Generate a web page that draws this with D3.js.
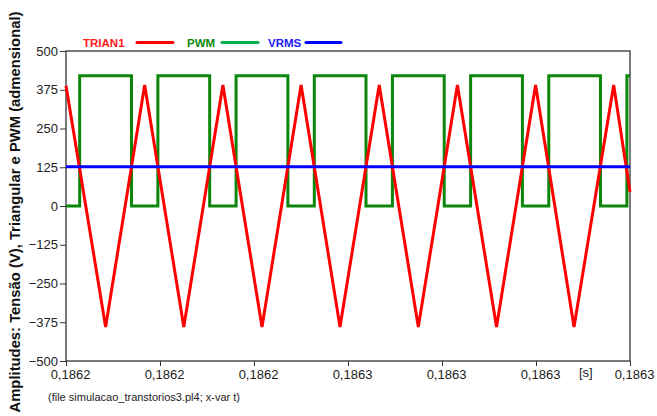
<!DOCTYPE html>
<html>
<head>
<meta charset="utf-8">
<script src="https://cdn.jsdelivr.net/npm/d3@7"></script>
<style>
  body { margin: 0; background: #fff; }
  text { font-family: Arial, "Liberation Sans", sans-serif; }
</style>
</head>
<body>
<svg id="chart" width="657" height="416"></svg>
<script>
const WIDTH = 657;
const HEIGHT = 416;
const PLOT = { left: 66, right: 630, top: 51, bottom: 361 };

// legend / series names
const seriesNames = ["TRIAN1", "PWM", "VRMS"];

// axes
const xTicks = [0.18620, 0.18622, 0.18624, 0.18626, 0.18628, 0.18630, 0.18632];
const xTickLabels = ["0,1862", "0,1862", "0,1862", "0,1863", "0,1863", "0,1863", "0,1863"];
const yTicks = [-500, -375, -250, -125, 0, 125, 250, 375, 500];

// TRIAN1 vertices (time in s, value)
const trianT = [0.18620000, 0.18620843, 0.18621674, 0.18622506, 0.18623338, 0.18624170, 0.18625002,
  0.18625830, 0.18626664, 0.18627496, 0.18628328, 0.18629160, 0.18629991, 0.18630809, 0.18631653, 0.18632000];
const trianV = [388, -390, 390, -390, 390, -390, 390, -390, 390, -390, 390, -390, 390, -390, 390, 45];

// PWM switching instants and levels (held until next instant)
const pwmT = [0.18620000, 0.18620291, 0.18621394, 0.18621955, 0.18623057, 0.18623619, 0.18624721,
  0.18625283, 0.18626383, 0.18626945, 0.18628047, 0.18628609, 0.18629711, 0.18630272, 0.18631372,
  0.18631934, 0.18632000];
const pwmV = [0, 420, 0, 420, 0, 420, 0, 420, 0, 420, 0, 420, 0, 420, 0, 420, 420];

// VRMS
const vrmsT = [0.18620000, 0.18632000];
const vrmsV = [127, 127];

const svg = d3.select("#chart");
svg.append("rect").attr("width", WIDTH).attr("height", HEIGHT).attr("fill", "#fff");

const xScale = d3.scaleLinear()
  .domain([xTicks[0], xTicks[xTicks.length - 1]])
  .range([PLOT.left, PLOT.right]);

const yScale = d3.scaleLinear()
  .domain([-500, 500])
  .range([PLOT.bottom, PLOT.top]);

// y axis
const yAxis = svg.append("g")
  .attr("transform", `translate(${PLOT.left},0)`)
  .call(d3.axisLeft(yScale).tickValues(yTicks).tickSize(6).tickPadding(2).tickFormat(d3.format("d")));
yAxis.select(".domain").remove();
yAxis.selectAll(".tick line").attr("stroke", "#333");
yAxis.selectAll(".tick text")
  .attr("font-size", 13)
  .attr("fill", "#222")
  .attr("font-family", "Arial, 'Liberation Sans', sans-serif");

// x axis
const xAxis = svg.append("g")
  .attr("transform", `translate(0,${PLOT.bottom})`)
  .call(d3.axisBottom(xScale).tickValues(xTicks).tickSize(5)
    .tickFormat((d, i) => xTickLabels[i]));
xAxis.select(".domain").remove();
xAxis.selectAll(".tick line").attr("stroke", "#333");
xAxis.selectAll(".tick text")
  .attr("font-size", 13)
  .attr("fill", "#222")
  .attr("x", 4)
  .attr("y", 9)
  .attr("font-family", "Arial, 'Liberation Sans', sans-serif");

// plot frame
svg.append("rect")
  .attr("x", PLOT.left).attr("y", PLOT.top)
  .attr("width", PLOT.right - PLOT.left).attr("height", PLOT.bottom - PLOT.top)
  .attr("fill", "none").attr("stroke", "#333").attr("stroke-width", 1.3);

const plot = svg.append("g");

function drawSeries(ts, vs, color, curve) {
  const pts = ts.map((t, i) => [t, vs[i]]);
  const line = d3.line()
    .x(d => xScale(d[0]))
    .y(d => yScale(d[1]))
    .curve(curve);
  plot.append("path")
    .datum(pts)
    .attr("d", line)
    .attr("fill", "none")
    .attr("stroke", color)
    .attr("stroke-width", 3)
    .attr("stroke-linejoin", "miter");
}

drawSeries(pwmT, pwmV, "#0b870b", d3.curveStepAfter);
drawSeries(trianT, trianV, "#ff0000", d3.curveLinear);
drawSeries(vrmsT, vrmsV, "#0000ff", d3.curveLinear);

// legend
const legendText = [83, 187, 268];
const legendLine = [[137, 173], [222, 258], [306, 341]];
const legendTextColor = ["#ff1a1a", "#0b870b", "#1a1aff"];
const legendLineColor = ["#ff0000", "#00b050", "#0000ff"];
seriesNames.forEach((name, i) => {
  svg.append("text")
    .attr("x", legendText[i]).attr("y", 47)
    .attr("font-size", 11.5).attr("font-weight", "bold")
    .attr("fill", legendTextColor[i])
    .text(name);
  svg.append("line")
    .attr("x1", legendLine[i][0]).attr("x2", legendLine[i][1])
    .attr("y1", 42.5).attr("y2", 42.5)
    .attr("stroke", legendLineColor[i]).attr("stroke-width", 3)
    .attr("stroke-linecap", "round");
});

// unit
svg.append("text")
  .attr("x", 579).attr("y", 377)
  .attr("font-size", 13).attr("fill", "#222")
  .text("[s]");

// footer
svg.append("text")
  .attr("x", 48).attr("y", 401)
  .attr("font-size", 11).attr("fill", "#222")
  .text("(file simulacao_transtorios3.pl4; x-var t)");

// y title
svg.append("text")
  .attr("transform", "translate(20,212) rotate(-90)")
  .attr("text-anchor", "middle")
  .attr("font-size", 14.8).attr("font-weight", "bold")
  .attr("fill", "#111")
  .text("Amplitudes: Tensão (V), Triangular e PWM (admensional)");
</script>
</body>
</html>
